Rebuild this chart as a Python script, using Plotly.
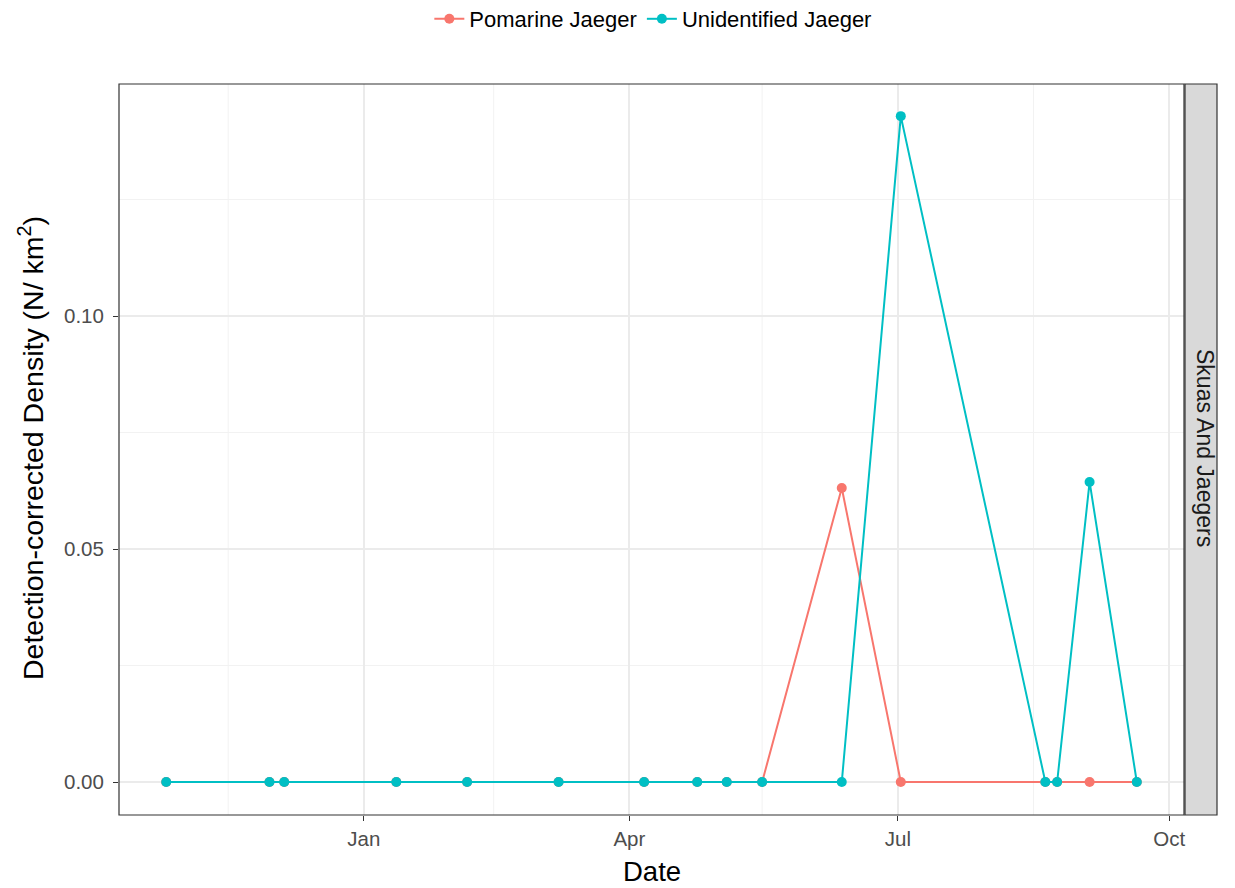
import plotly.graph_objects as go

dates = ["2014-10-26", "2014-11-30", "2014-12-05", "2015-01-12", "2015-02-05",
         "2015-03-08", "2015-04-06", "2015-04-24", "2015-05-04", "2015-05-16",
         "2015-06-12", "2015-07-02", "2015-08-20", "2015-08-24", "2015-09-04",
         "2015-09-20"]
pomarine = [0, 0, 0, 0, 0, 0, 0, 0, 0, 0, 0.0631, 0, 0, 0, 0, 0]
unidentified = [0, 0, 0, 0, 0, 0, 0, 0, 0, 0, 0, 0.1429, 0, 0, 0.0644, 0]

tick_vals = ["2015-01-01", "2015-04-01", "2015-07-01", "2015-10-01"]
tick_text = ["Jan", "Apr", "Jul", "Oct"]
minor_x = ["2014-11-16", "2015-02-14", "2015-05-16", "2015-08-16"]
minor_y = [0.025, 0.075, 0.125]

fig = go.Figure()
fig.add_trace(go.Scatter(x=dates, y=pomarine, mode="lines+markers", name="Pomarine Jaeger",
                         line=dict(color="#F8766D", width=2), marker=dict(size=10, color="#F8766D")))
fig.add_trace(go.Scatter(x=dates, y=unidentified, mode="lines+markers", name="Unidentified Jaeger",
                         line=dict(color="#00BFC4", width=2), marker=dict(size=10, color="#00BFC4")))

W, H = 1235, 888
L, T = 119, 84
B = H - 815
R = W - 1217
pw = W - L - R
ph = H - T - B
xd1 = (1184 - L) / pw
sx0 = (1185 - L) / pw

shapes = []
for mx in minor_x:
    shapes.append(dict(type="line", xref="x", yref="paper", x0=mx, x1=mx, y0=0, y1=1,
                       line=dict(color="#F2F2F2", width=1), layer="below"))
for my in minor_y:
    shapes.append(dict(type="line", xref="paper", yref="y", x0=0, x1=xd1, y0=my, y1=my,
                       line=dict(color="#F2F2F2", width=1), layer="below"))
shapes.append(dict(type="rect", xref="paper", yref="paper", x0=0, x1=xd1, y0=0, y1=1,
                   line=dict(color="#333333", width=1.2), fillcolor="rgba(0,0,0,0)"))
shapes.append(dict(type="rect", xref="paper", yref="paper", x0=sx0, x1=1.0, y0=0, y1=1,
                   line=dict(color="#333333", width=1.2), fillcolor="#D9D9D9"))

panel_cx = ((119 + 1184) / 2 - L) / pw

annotations = [
    dict(text="Skuas And Jaegers", xref="paper", yref="paper",
         x=(sx0 + 1.0) / 2, y=1 - (448 - T) / ph, xanchor="center", yanchor="middle",
         xshift=4, showarrow=False, textangle=90, font=dict(size=23, color="#1A1A1A")),
    dict(text="Date", xref="paper", yref="paper", x=panel_cx, y=-(871 - 815) / ph,
         xanchor="center", yanchor="middle", showarrow=False,
         font=dict(size=27.5, color="#000000")),
    dict(text="Detection-corrected Density (N/ km<sup>2</sup>)", xref="paper", yref="paper",
         x=(31 - L) / pw, y=1 - (448 - T) / ph, xanchor="center", yanchor="middle",
         showarrow=False, textangle=-90, font=dict(size=28.5, color="#000000")),
]

fig.update_layout(
    width=W, height=H,
    margin=dict(l=L, r=R, t=T, b=B, autoexpand=False),
    paper_bgcolor="white", plot_bgcolor="white",
    font=dict(family="Liberation Sans, Arial, sans-serif", color="#000000"),
    shapes=shapes,
    annotations=annotations,
    showlegend=True,
    legend=dict(orientation="h", x=601 / W, xanchor="center",
                y=1 - 19 / H, yref="container", yanchor="middle",
                font=dict(size=22, color="#000000"), traceorder="normal"),
    xaxis=dict(domain=[0, xd1], type="date", range=["2014-10-10", "2015-10-06"],
               tickvals=tick_vals, ticktext=tick_text, showgrid=True, gridcolor="#EBEBEB",
               gridwidth=1.5, zeroline=False, ticks="outside", ticklen=5, tickcolor="#333333",
               tickwidth=1.2, tickfont=dict(size=20.5, color="#4D4D4D"),
               ticklabelstandoff=0, automargin=False, showline=False),
    yaxis=dict(range=[-0.00708, 0.1498], tickvals=[0, 0.05, 0.10],
               ticktext=["0.00", "0.05", "0.10"], showgrid=True, gridcolor="#EBEBEB",
               gridwidth=1.5, zeroline=False, ticks="outside", ticklen=5, tickcolor="#333333",
               tickwidth=1.2, tickfont=dict(size=20.5, color="#4D4D4D"),
               ticklabelstandoff=5, automargin=False, showline=False),
)

fig.write_html("out.html", config={"displayModeBar": False},
               post_script="document.body.style.margin='0';document.body.style.overflow='hidden';")
